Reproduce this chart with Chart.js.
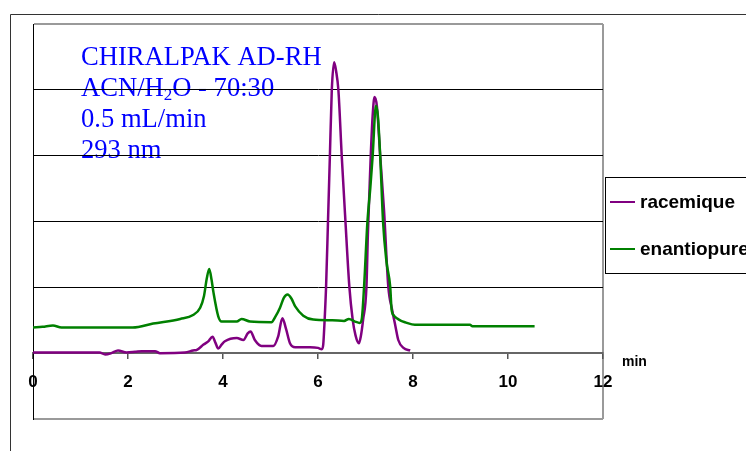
<!DOCTYPE html>
<html>
<head>
<meta charset="utf-8">
<script src="https://cdn.jsdelivr.net/npm/chart.js@4.4.0/dist/chart.umd.min.js"></script>
<style>
    html, body { margin: 0; padding: 0; background: #ffffff; }
    #wrap { width: 746px; height: 451px; position: relative; overflow: hidden; }
</style>
</head>
<body>
<div id="wrap"><canvas id="chromChart" width="746" height="451"></canvas></div>
<script>
// retention time (min) and detector signal
const racemiqueTime = [0, 1.4, 1.52, 1.65, 1.79, 1.97, 2.15, 2.29, 2.57, 2.67, 3.2, 3.37, 3.45, 3.59, 3.69, 3.78, 3.84, 3.9, 3.97, 4.04, 4.29, 4.43, 4.52, 4.58, 4.67, 4.81, 5.06, 5.16, 5.25, 5.33, 5.41, 5.52, 5.83, 6.0, 6.08, 6.11, 6.14, 6.17, 6.21, 6.25, 6.29, 6.34, 6.38, 6.43, 6.5, 6.57, 6.66, 6.73, 6.79, 6.86, 6.9, 6.95, 7.02, 7.05, 7.08, 7.11, 7.15, 7.19, 7.24, 7.31, 7.39, 7.48, 7.56, 7.63, 7.69, 7.8, 7.94];
const racemiqueSignal = [1, 1, -2, 0, 4, 1, 2, 3, 3, 0, 1, 4, 5, 13, 18, 25, 16, 7, 13, 18, 23, 20, 30, 33, 20, 11, 11, 25, 53, 36, 15, 9, 9, 8, 6, 13, 51, 101, 199, 299, 399, 442, 429, 399, 299, 210, 101, 51, 27, 15, 25, 51, 101, 180, 240, 299, 360, 389, 375, 299, 217, 101, 66, 41, 20, 8, 4];

const enantioTime = [0, 0.2, 0.42, 0.6, 2.1, 2.53, 3.1, 3.37, 3.52, 3.6, 3.66, 3.71, 3.76, 3.8, 3.9, 3.97, 4.29, 4.39, 4.57, 5.02, 5.1, 5.2, 5.28, 5.36, 5.44, 5.52, 5.69, 5.9, 6.3, 6.55, 6.65, 6.78, 6.88, 6.92, 6.97, 7.04, 7.1, 7.15, 7.22, 7.26, 7.31, 7.37, 7.44, 7.52, 7.55, 7.6, 7.66, 7.75, 7.83, 8.04, 9.2, 9.25, 10.56];
const enantioSignal = [39, 40, 42, 39, 39, 45, 52, 58, 69, 87, 114, 128, 111, 92, 56, 48, 48, 52, 48, 47, 55, 69, 84, 89, 83, 71, 57, 51, 50, 49, 52, 48, 46, 51, 101, 199, 250, 299, 376, 361, 299, 199, 140, 101, 66, 57, 53, 49, 47, 43, 43, 41, 41];

const seriesNames = ['racemique', 'enantiopure'];
const seriesColors = ['#800080', '#008000'];
const xTickValues = [0, 2, 4, 6, 8, 10, 12];

// column conditions, [text, isSubscript]
const conditionLines = [
    [['CHIRALPAK AD-RH', false]],
    [['ACN/H', false], ['2', true], ['O - 70:30', false]],
    [['0.5 mL/min', false]],
    [['293 nm', false]]
];

const SANS = '"Liberation Sans", Arial, sans-serif';
const SERIF = '"Liberation Serif", "Times New Roman", serif';

const toPoints = (times, values) => times.map((t, i) => ({ x: t, y: values[i] }));

const decorPlugin = {
    id: 'decor',
    beforeDraw(chart) {
        const { ctx, chartArea: area } = chart;
        ctx.save();
        // outer chart frame
        ctx.strokeStyle = '#333333';
        ctx.lineWidth = 1;
        ctx.beginPath();
        ctx.moveTo(10.5, 451);
        ctx.lineTo(10.5, 14.5);
        ctx.lineTo(746, 14.5);
        ctx.stroke();

        // right edge of the plot box
        ctx.strokeStyle = '#9a9a9a';
        ctx.lineWidth = 2;
        ctx.beginPath();
        ctx.moveTo(area.right, area.top);
        ctx.lineTo(area.right, area.bottom);
        ctx.stroke();

        // conditions text
        ctx.fillStyle = '#0000ff';
        ctx.textBaseline = 'alphabetic';
        ctx.textAlign = 'left';
        const baselines = [65, 96, 127, 158];
        conditionLines.forEach((parts, i) => {
            let x = 81;
            parts.forEach(([text, sub]) => {
                ctx.font = sub ? `17px ${SERIF}` : `26.6px ${SERIF}`;
                ctx.fillText(text, x, baselines[i] + (sub ? 4 : 0));
                x += ctx.measureText(text).width;
            });
        });
        ctx.restore();
    },
    afterDraw(chart) {
        const { ctx } = chart;
        ctx.save();
        // axis unit
        ctx.fillStyle = '#000000';
        ctx.font = `bold 14px ${SANS}`;
        ctx.textBaseline = 'middle';
        ctx.textAlign = 'left';
        ctx.fillText('min', 622, 362);

        // legend box
        ctx.strokeStyle = '#000000';
        ctx.lineWidth = 1;
        ctx.strokeRect(605.5, 177.5, 200, 96);
        const rows = [202, 249];
        chart.data.datasets.forEach((ds, i) => {
            ctx.strokeStyle = ds.borderColor;
            ctx.lineWidth = 2;
            ctx.beginPath();
            ctx.moveTo(610, rows[i]);
            ctx.lineTo(635, rows[i]);
            ctx.stroke();
            ctx.fillStyle = '#000000';
            ctx.font = `bold 19px ${SANS}`;
            ctx.fillText(ds.label, 640, rows[i] + 1);
        });
        ctx.restore();
    }
};

const chromChart = new Chart(document.getElementById('chromChart').getContext('2d'), {
    type: 'line',
    data: {
        datasets: [
            {
                label: seriesNames[0],
                data: toPoints(racemiqueTime, racemiqueSignal),
                borderColor: seriesColors[0],
                borderWidth: 2.5,
                pointRadius: 0,
                fill: false,
                order: 1,
                cubicInterpolationMode: 'monotone'
            },
            {
                label: seriesNames[1],
                data: toPoints(enantioTime, enantioSignal),
                borderColor: seriesColors[1],
                borderWidth: 2.5,
                pointRadius: 0,
                fill: false,
                order: 0,
                cubicInterpolationMode: 'monotone'
            }
        ]
    },
    options: {
        responsive: false,
        animation: false,
        layout: { padding: { left: 33, right: 143, top: 24, bottom: 32 } },
        plugins: {
            legend: { display: false },
            tooltip: { enabled: false }
        },
        scales: {
            x: {
                type: 'linear',
                position: { y: 0 },
                min: 0,
                max: 12,
                afterBuildTicks: (scale) => {
                    scale.ticks = xTickValues.map((v) => ({ value: v }));
                },
                ticks: {
                    color: '#000000',
                    font: { family: SANS, size: 17, weight: 'bold' },
                    padding: 14,
                    maxRotation: 0
                },
                grid: {
                    drawOnChartArea: false,
                    drawTicks: true,
                    tickLength: 5,
                    color: '#555555',
                    lineWidth: 1.5
                },
                border: { display: true, color: '#666666', width: 2 }
            },
            y: {
                type: 'linear',
                position: 'left',
                min: -100,
                max: 500,
                ticks: { display: false, stepSize: 100 },
                afterFit: (scale) => { scale.width = 0; },
                grid: {
                    drawTicks: false,
                    color: (c) => {
                        const v = c.tick.value;
                        if (v === 0) return 'rgba(0,0,0,0)';
                        if (v === 500 || v === -100) return '#9a9a9a';
                        return '#000000';
                    },
                    lineWidth: (c) => (c.tick.value === 500 || c.tick.value === -100 ? 2 : 1)
                },
                border: { display: true, color: '#000000', width: 1 }
            }
        }
    },
    plugins: [decorPlugin]
});
</script>
</body>
</html>
